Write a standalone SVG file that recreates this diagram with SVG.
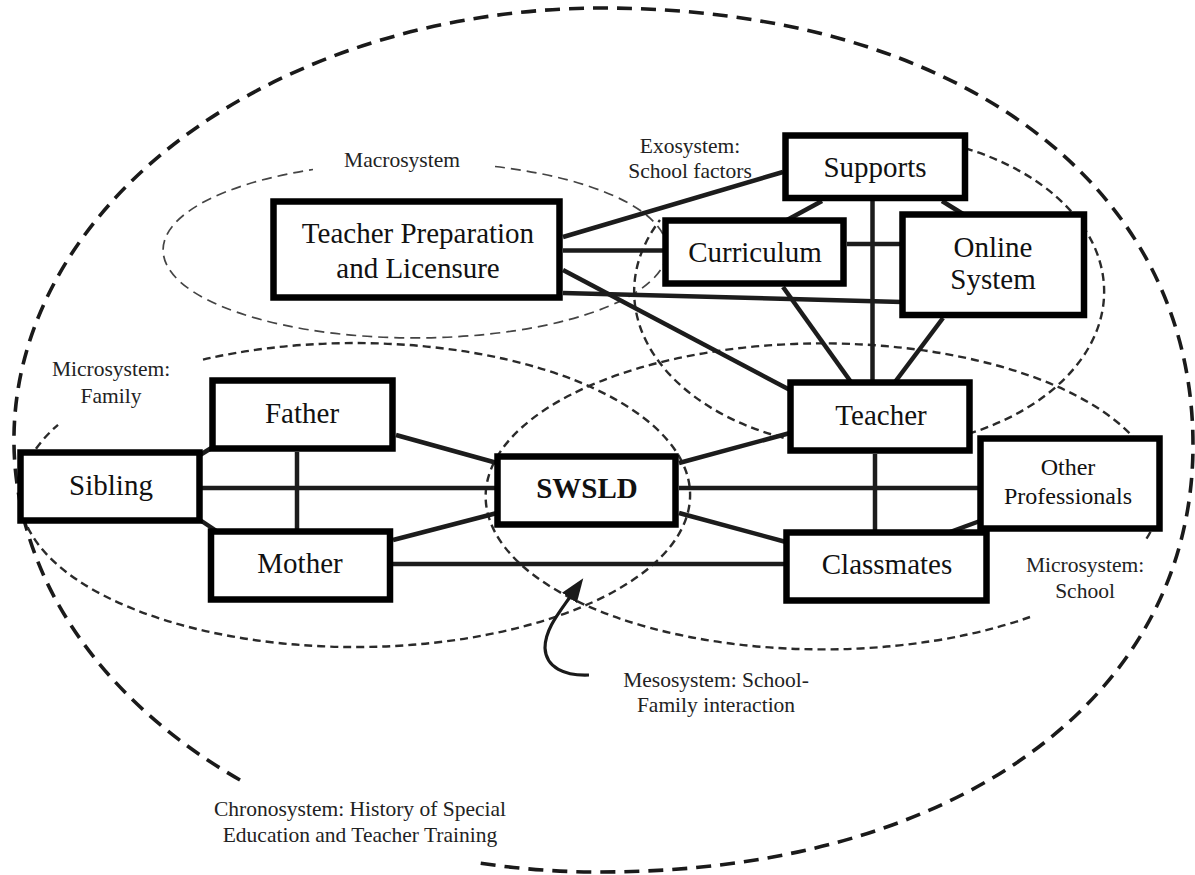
<svg xmlns="http://www.w3.org/2000/svg" width="1195" height="875" viewBox="0 0 1195 875">
<defs>
<style>
.bg{fill:#ffffff}
.chrono{fill:none;stroke:#1a1a1a;stroke-width:3.6;stroke-dasharray:15 9}
.sys{fill:none;stroke:#2a2a2a;stroke-width:2.4;stroke-dasharray:8 5}
.macro{fill:none;stroke:#444;stroke-width:1.7;stroke-dasharray:10 6}
.box{fill:#ffffff;stroke:#000;stroke-width:6.5}
.con{stroke:#1c1c1c;stroke-width:4.5;fill:none;stroke-linecap:butt}
.lbl{font-family:"Liberation Serif","Times New Roman",serif;font-size:29px;fill:#111;text-anchor:middle}
.bold{font-weight:bold}
.small{font-family:"Liberation Serif","Times New Roman",serif;font-size:21.5px;fill:#222;text-anchor:middle}
.arrow{fill:none;stroke:#1a1a1a;stroke-width:3.2}
</style>
<marker id="ah" viewBox="0 0 24 18" refX="1" refY="9" markerWidth="24" markerHeight="18" markerUnits="userSpaceOnUse" orient="auto">
<path d="M0,0 L24,9 L0,18 Z" fill="#1a1a1a"/>
</marker>
</defs>
<rect class="bg" x="0" y="0" width="1195" height="875"/>

<g id="systems">
<path id="chronosystem" class="chrono" d="M 240,780 A 590 432 0 0 1 600,8 C 956,8 1193,183 1193,445 C 1193,701 952,872 600,872 A 590 432 0 0 1 476,862.5"/>
<path id="macrosystem" class="macro" d="M 495,166.5 A 252 88 0 1 1 313,169.5"/>
<path id="exosystem" class="sys" d="M 785,145 A 235 157 0 1 1 660,220"/>
<path id="family" class="sys" d="M 203,359.6 A 335 152 0 1 1 58,424.8"/>
<path id="school" class="sys" d="M 1030,617 A 337 153 0 1 1 1145,541"/>
</g>

<g id="connectors">
<line class="con" x1="563" y1="237" x2="783" y2="172"/>
<line class="con" x1="563" y1="250.5" x2="665" y2="250.5"/>
<line class="con" x1="563" y1="270" x2="790" y2="390"/>
<line class="con" x1="563" y1="293" x2="902" y2="302"/>
<line class="con" x1="822" y1="201" x2="787" y2="220"/>
<line class="con" x1="872.5" y1="201" x2="872.5" y2="382"/>
<line class="con" x1="942" y1="201" x2="963" y2="214"/>
<line class="con" x1="847" y1="244" x2="902" y2="244"/>
<line class="con" x1="783" y1="287" x2="851" y2="382"/>
<line class="con" x1="943" y1="318" x2="895" y2="382"/>
<line class="con" x1="200" y1="455" x2="213" y2="447"/>
<line class="con" x1="200" y1="520" x2="218" y2="532"/>
<line class="con" x1="297" y1="452" x2="297" y2="531"/>
<line class="con" x1="200" y1="488" x2="497" y2="488"/>
<line class="con" x1="396" y1="435" x2="497" y2="463"/>
<line class="con" x1="393" y1="540" x2="497" y2="513"/>
<line class="con" x1="393" y1="564" x2="786" y2="564"/>
<line class="con" x1="679" y1="463" x2="790" y2="433"/>
<line class="con" x1="679" y1="513" x2="786" y2="542"/>
<line class="con" x1="679" y1="488" x2="980" y2="488"/>
<line class="con" x1="875" y1="454" x2="875" y2="532"/>
<line class="con" x1="950" y1="532" x2="980" y2="521"/>
</g>

<g id="node-teacher-prep">
<rect class="box" x="273.5" y="201.5" width="286" height="96"/>
<text class="lbl" x="418" y="243">Teacher Preparation</text>
<text class="lbl" x="418" y="278">and Licensure</text>
</g>
<g id="node-supports">
<rect class="box" x="785.5" y="135.5" width="179.5" height="62.5"/>
<text class="lbl" x="875" y="177">Supports</text>
</g>
<g id="node-curriculum">
<rect class="box" x="665.5" y="220.5" width="178" height="63"/>
<text class="lbl" x="755" y="262">Curriculum</text>
</g>
<g id="node-online">
<rect class="box" x="902.5" y="214.5" width="181.5" height="100.5"/>
<text class="lbl" x="993" y="257">Online</text>
<text class="lbl" x="993" y="289">System</text>
</g>
<g id="node-teacher">
<rect class="box" x="790.5" y="382.5" width="179" height="68"/>
<text class="lbl" x="881" y="425">Teacher</text>
</g>
<g id="node-other">
<rect class="box" x="980.5" y="438.5" width="179" height="90"/>
<text class="lbl" x="1068" y="475" style="font-size:24px">Other</text>
<text class="lbl" x="1068" y="504" style="font-size:24px">Professionals</text>
</g>
<g id="node-classmates">
<rect class="box" x="786.5" y="532.5" width="200" height="68"/>
<text class="lbl" x="887" y="574">Classmates</text>
</g>
<g id="node-swsld">
<rect class="box" x="497.5" y="456.5" width="178" height="68"/>
<text class="lbl bold" x="587" y="498">SWSLD</text>
</g>
<g id="node-sibling">
<rect class="box" x="20.5" y="452.5" width="179" height="68"/>
<text class="lbl" x="111" y="495">Sibling</text>
</g>
<g id="node-father">
<rect class="box" x="212.5" y="380.5" width="180" height="68"/>
<text class="lbl" x="302" y="423">Father</text>
</g>
<g id="node-mother">
<rect class="box" x="211" y="531.5" width="179" height="68"/>
<text class="lbl" x="300" y="573">Mother</text>
</g>

<g id="labels">
<text class="small" x="402" y="167">Macrosystem</text>
<text class="small" x="690" y="153">Exosystem:</text>
<text class="small" x="690" y="178">School factors</text>
<text class="small" x="111" y="376">Microsystem:</text>
<text class="small" x="111" y="403">Family</text>
<text class="small" x="1085" y="572">Microsystem:</text>
<text class="small" x="1085" y="598">School</text>
<text class="small" x="716" y="687">Mesosystem: School-</text>
<text class="small" x="716" y="712">Family interaction</text>
<text class="small" x="360" y="816">Chronosystem: History of Special</text>
<text class="small" x="360" y="842">Education and Teacher Training</text>
</g>

<g id="mesosystem-arrow">
<path class="arrow" d="M 589,675 C 565,676 546,668 545,648 C 545,630 558,614 570,597" marker-end="url(#ah)"/>
</g>
</svg>
